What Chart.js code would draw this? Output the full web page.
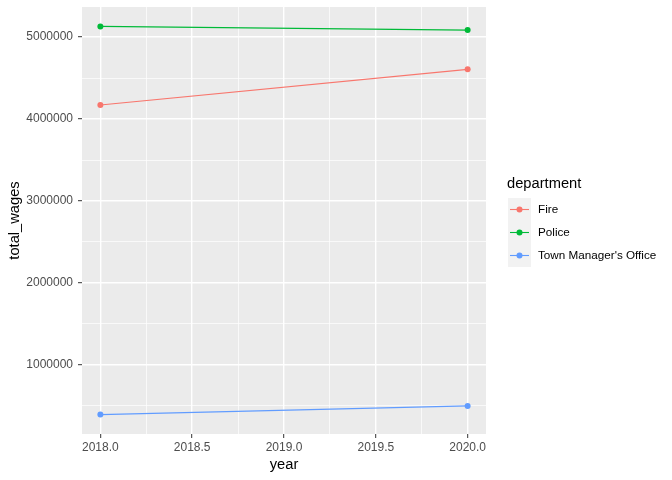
<!DOCTYPE html>
<html>
<head>
<meta charset="utf-8">
<script src="https://cdn.jsdelivr.net/npm/chart.js@4"></script>
<style>
  html, body { margin: 0; padding: 0; background: #fff; }
  #wrap { width: 672px; height: 480px; position: relative; }
</style>
</head>
<body>
<div id="wrap"><canvas id="wagesChart"></canvas></div>
<script>
const years = [2018, 2020];
const departments = ['Fire', 'Police', "Town Manager's Office"];
const fireWages = [4171000, 4606000];
const policeWages = [5130000, 5085000];
const townManagerWages = [394000, 500000];
const xTicks = [2018, 2018.25, 2018.5, 2018.75, 2019, 2019.25, 2019.5, 2019.75, 2020];
const yTicks = [500000, 1000000, 1500000, 2000000, 2500000, 3000000, 3500000, 4000000, 4500000, 5000000];
const colors = ['#F8766D', '#00BA38', '#619CFF'];

const seriesValues = [fireWages, policeWages, townManagerWages];

const textFont = '"Liberation Sans", Arial, sans-serif';

function isMajorX(v) { return Math.abs(v * 2 - Math.round(v * 2)) < 1e-9; }
function isMajorY(v) { return v % 1000000 === 0; }

const panelBg = {
    id: 'panelBg',
    beforeDraw(chart) {
        const a = chart.chartArea;
        const c = chart.ctx;
        c.save();
        c.fillStyle = '#EBEBEB';
        c.fillRect(a.left, a.top, a.right - a.left, a.bottom - a.top);
        c.restore();
    }
};

const ggLegend = {
    id: 'ggLegend',
    afterDraw(chart) {
        const c = chart.ctx;
        c.save();
        c.fillStyle = '#000';
        c.font = '14.7px ' + textFont;
        c.textBaseline = 'middle';
        c.textAlign = 'left';
        c.fillText('department', 507, 184);

        c.fillStyle = '#F2F2F2';
        c.fillRect(508, 198, 23, 69);

        departments.forEach((name, i) => {
            const cy = 209.5 + i * 23;
            c.strokeStyle = colors[i];
            c.lineWidth = 1.1;
            c.beginPath();
            c.moveTo(510, cy);
            c.lineTo(529, cy);
            c.stroke();
            c.fillStyle = colors[i];
            c.beginPath();
            c.arc(519.5, cy, 3, 0, Math.PI * 2);
            c.fill();
            c.fillStyle = '#000';
            c.font = '11.7px ' + textFont;
            c.fillText(name, 538, cy);
        });
        c.restore();
    }
};

const ctx = document.getElementById('wagesChart');

new Chart(ctx, {

    type: 'line',

    data: {
        datasets: departments.map((name, i) => ({
            label: name,
            data: years.map((yr, j) => ({ x: yr, y: seriesValues[i][j] })),
            borderColor: colors[i],
            backgroundColor: colors[i],
            borderWidth: 1.1,
            pointRadius: 3,
            pointBorderWidth: 0,
            pointHoverRadius: 3
        }))
    },

    options: {
        responsive: true,
        maintainAspectRatio: false,
        animation: false,
        events: [],
        layout: {
            padding: { left: 0, top: 7, right: 186, bottom: 0 }
        },
        plugins: {
            legend: { display: false },
            tooltip: { enabled: false }
        },
        scales: {
            x: {
                type: 'linear',
                min: 2017.9,
                max: 2020.1,
                afterBuildTicks: (scale) => {
                    scale.ticks = xTicks.map(v => ({ value: v }));
                },
                afterFit: (scale) => {
                    scale.height = 46;
                    scale.paddingLeft = 0;
                    scale.paddingRight = 0;
                },
                border: { display: false },
                grid: {
                    color: '#FFFFFF',
                    lineWidth: (c) => isMajorX(c.tick.value) ? 1.4 : 0.7,
                    drawTicks: true,
                    tickLength: 4,
                    tickColor: (c) => isMajorX(c.tick.value) ? '#333333' : 'rgba(0,0,0,0)',
                    tickWidth: 1
                },
                ticks: {
                    color: '#4D4D4D',
                    padding: 2,
                    maxRotation: 0,
                    autoSkip: false,
                    font: { family: textFont, size: 12 },
                    callback: (v) => isMajorX(v) ? Number(v).toFixed(1) : ''
                },
                title: {
                    display: true,
                    text: 'year',
                    color: '#000',
                    padding: { top: 0, bottom: 6 },
                    font: { family: textFont, size: 14.7 }
                }
            },
            y: {
                type: 'linear',
                min: 157200,
                max: 5366800,
                afterBuildTicks: (scale) => {
                    scale.ticks = yTicks.map(v => ({ value: v }));
                },
                afterFit: (scale) => {
                    scale.width = 82;
                    scale.paddingTop = 0;
                    scale.paddingBottom = 0;
                },
                border: { display: false },
                grid: {
                    color: '#FFFFFF',
                    lineWidth: (c) => isMajorY(c.tick.value) ? 1.4 : 0.7,
                    drawTicks: true,
                    tickLength: 4,
                    tickColor: (c) => isMajorY(c.tick.value) ? '#333333' : 'rgba(0,0,0,0)',
                    tickWidth: 1
                },
                ticks: {
                    color: '#4D4D4D',
                    padding: 5,
                    autoSkip: false,
                    font: { family: textFont, size: 12 },
                    callback: (v) => isMajorY(v) ? String(v) : ''
                },
                title: {
                    display: true,
                    text: 'total_wages',
                    color: '#000',
                    padding: { top: 6, bottom: 0 },
                    font: { family: textFont, size: 14.7 }
                }
            }
        }
    },

    plugins: [panelBg, ggLegend]

});
</script>
</body>
</html>
